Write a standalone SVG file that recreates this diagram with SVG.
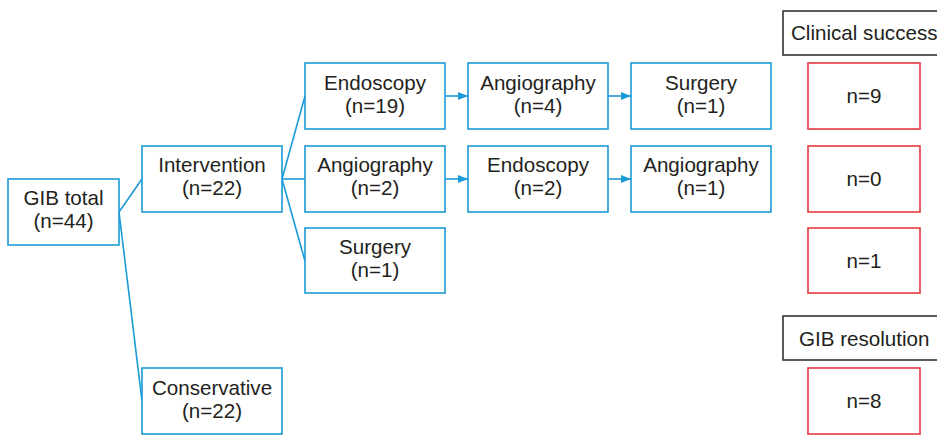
<svg xmlns="http://www.w3.org/2000/svg" width="937" height="435" viewBox="0 0 937 435">
<style>
.b{fill:#fff;stroke:#1a9ad6;stroke-width:1.6}
.r{fill:#fff;stroke:#e63a3f;stroke-width:1.6}
.k{fill:#fff;stroke:#333;stroke-width:1.6}
text{font-family:"Liberation Sans",Arial,sans-serif;font-size:20.6px;fill:#231f20;text-anchor:middle}
.c line{stroke:#1a9ad6;stroke-width:1.6;fill:none}
</style>
<defs>
<marker id="a" viewBox="0 0 10 8" refX="10" refY="4" markerWidth="10" markerHeight="8" markerUnits="userSpaceOnUse" orient="auto">
<path d="M0,0L10,4L0,8Z" fill="#1a9ad6"/>
</marker>
</defs>
<g class="c" id="connectors">
<line x1="119" y1="212" x2="142" y2="179"/>
<line x1="119" y1="212" x2="142" y2="401"/>
<line x1="282" y1="179" x2="305" y2="96"/>
<line x1="282" y1="179" x2="305" y2="179"/>
<line x1="282" y1="179" x2="305" y2="261"/>
<line x1="445" y1="96" x2="468" y2="96" marker-end="url(#a)"/>
<line x1="608" y1="96" x2="631" y2="96" marker-end="url(#a)"/>
<line x1="445" y1="179" x2="468" y2="179" marker-end="url(#a)"/>
<line x1="608" y1="179" x2="631" y2="179" marker-end="url(#a)"/>
</g>
<g id="gib"><rect class="b" x="8" y="179" width="111" height="66"/><text x="63.5" y="205">GIB total</text><text x="63.5" y="228">(n=44)</text></g>
<g id="intervention"><rect class="b" x="142" y="146" width="140" height="66"/><text x="212" y="172">Intervention</text><text x="212" y="195">(n=22)</text></g>
<g id="conservative"><rect class="b" x="142" y="368" width="140" height="66"/><text x="212" y="395">Conservative</text><text x="212" y="418">(n=22)</text></g>
<g id="endo19"><rect class="b" x="305" y="63" width="140" height="66"/><text x="375" y="90">Endoscopy</text><text x="375" y="113">(n=19)</text></g>
<g id="angio4"><rect class="b" x="468" y="63" width="140" height="66"/><text x="538" y="90">Angiography</text><text x="538" y="113">(n=4)</text></g>
<g id="surg1a"><rect class="b" x="631" y="63" width="140" height="66"/><text x="701" y="90">Surgery</text><text x="701" y="113">(n=1)</text></g>
<g id="angio2"><rect class="b" x="305" y="146" width="140" height="66"/><text x="375" y="172">Angiography</text><text x="375" y="195">(n=2)</text></g>
<g id="endo2"><rect class="b" x="468" y="146" width="140" height="66"/><text x="538" y="172">Endoscopy</text><text x="538" y="195">(n=2)</text></g>
<g id="angio1"><rect class="b" x="631" y="146" width="140" height="66"/><text x="701" y="172">Angiography</text><text x="701" y="195">(n=1)</text></g>
<g id="surg1b"><rect class="b" x="305" y="228" width="140" height="65"/><text x="375" y="254">Surgery</text><text x="375" y="277">(n=1)</text></g>
<g id="clinical"><rect class="k" x="783" y="11" width="170" height="44"/><text x="791" y="40" style="text-anchor:start">Clinical success</text></g>
<g id="n9"><rect class="r" x="808" y="63" width="112" height="66"/><text x="864" y="103">n=9</text></g>
<g id="n0"><rect class="r" x="808" y="146" width="112" height="66"/><text x="864" y="186">n=0</text></g>
<g id="n1"><rect class="r" x="808" y="228" width="112" height="65"/><text x="864" y="268">n=1</text></g>
<g id="resolution"><rect class="k" x="783" y="316" width="170" height="44"/><text x="799" y="346" style="text-anchor:start">GIB resolution</text></g>
<g id="n8"><rect class="r" x="808" y="368" width="112" height="66"/><text x="864" y="408">n=8</text></g>
</svg>
